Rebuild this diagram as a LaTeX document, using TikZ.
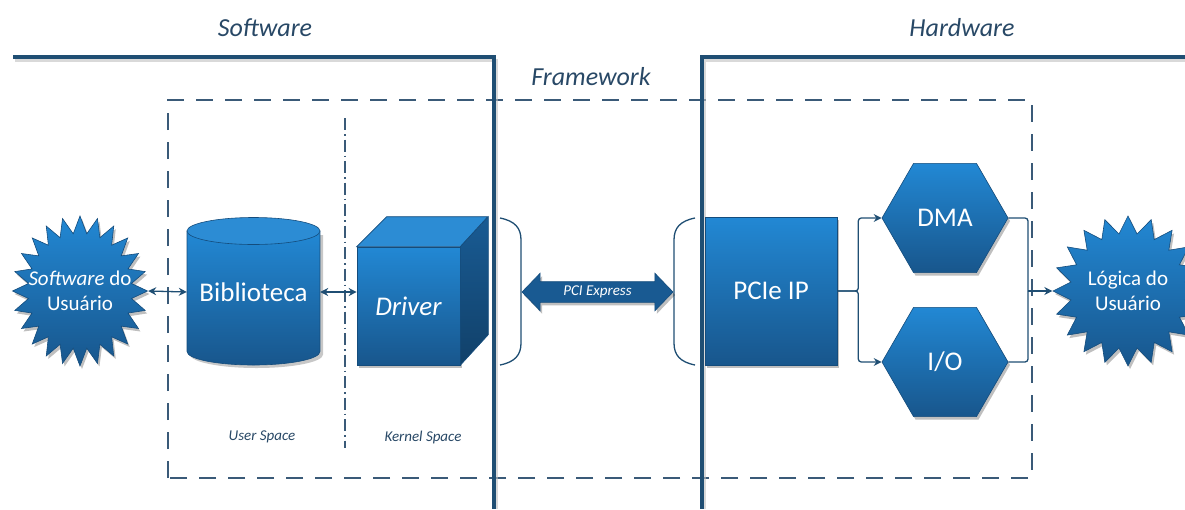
\documentclass[tikz,border=0pt]{standalone}
\usepackage{fontspec}
\setmainfont{Carlito}
\usetikzlibrary{shapes.geometric,shapes.arrows,arrows.meta,shadows}
\definecolor{navy}{RGB}{31,78,115}
\definecolor{dashc}{RGB}{58,90,120}
\definecolor{txtc}{RGB}{40,72,102}
\definecolor{btop}{RGB}{34,136,212}
\definecolor{bbot}{RGB}{24,86,140}
\definecolor{blight}{RGB}{44,140,212}
\definecolor{bdark}{RGB}{20,76,124}
\begin{document}
\begin{tikzpicture}[x=1pt,y=-1pt,
  bigline/.style={draw=navy, line width=3.2pt},
  frameline/.style={draw=dashc, line width=2.4pt, dash pattern=on 17pt off 12pt},
  shad/.style={drop shadow={shadow xshift=2pt, shadow yshift=-3pt, opacity=0.25, fill=black}},
  blk/.style={top color=btop, bottom color=bbot, draw=bdark, line width=0.6pt, text=white,
    font=\fontsize{27}{30}\selectfont, shad},
  hdr/.style={text=txtc, font=\fontsize{26}{30}\selectfont\itshape},
  small/.style={text=txtc, font=\fontsize{15}{18}\selectfont\itshape},
  conn/.style={draw=navy, line width=1.3pt},
  arr/.style={-{Stealth[length=8pt,width=8pt]}},
  darr/.style={{Stealth[length=8pt,width=8pt]}-{Stealth[length=8pt,width=8pt]}},
  brk/.style={draw=navy, line width=1.3pt},
  burst/.style={star, inner sep=0pt, top color=btop, bottom color=bbot,
    draw=bdark, line width=0.6pt, shad},
  bursttext/.style={align=center, text=white, font=\fontsize{21}{25}\selectfont, inner sep=0pt}
]
\useasboundingbox (0,0) rectangle (1185,509);

% headers
\node[hdr] (sw) at (265,28) {Software};
\node[hdr] (hw) at (962,28) {Hardware};
\node[hdr] (fw) at (591,77) {Framework};

% framework dashed box
\draw[frameline] (168,478) -- (168,100) -- (1032,100) -- (1032,478) -- cycle;
% user/kernel separator
\draw[dashc, line width=1.4pt, dash pattern=on 12pt off 4pt on 1.5pt off 4pt] (345,118) -- (345,448);

% software / hardware lines
\draw[black!25, line width=3pt, opacity=0.6] (15,60) -- (496,60) -- (496,509);
\draw[black!25, line width=3pt, opacity=0.6] (1185,60) -- (704,60) -- (704,509);
\draw[bigline] (13,57) -- (494,57) -- (494,509);
\draw[bigline] (1185,57) -- (702,57) -- (702,509);

\node[small] (us) at (262,437) {User Space};
\node[small] (ks) at (423,437) {Kernel Space};

% user software
\node[burst, star points=24, star point ratio=1.3, minimum size=150pt, xscale=0.9, transform shape] (usr) at (80,291) {};
\node[bursttext] (usrt) at (usr.center) {\textit{Software} do\\Usuário};

% Biblioteca cylinder
\fill[black, opacity=0.22] (190,235) -- (190,354.5) arc[start angle=180,end angle=0,x radius=66.5,y radius=13.5] -- (323,235) -- cycle;
\draw[top color=btop, bottom color=bbot, draw=bdark, line width=0.6pt]
  (187,231) -- (187,351.5) arc[start angle=180,end angle=0,x radius=66.5,y radius=13.5] -- (320,231) -- cycle;
\draw[fill=blight, draw=bdark, line width=0.6pt] (253.5,231) ellipse [x radius=66.5, y radius=13.5];
\node[text=white, font=\fontsize{27}{30}\selectfont, minimum width=133pt, minimum height=100pt, inner sep=0pt] (bib) at (253.5,292) {Biblioteca};

% Driver cube
\node[blk, minimum width=103pt, minimum height=118pt, inner sep=0pt] (drv) at (408.5,306) {\textit{Driver}};
\draw[fill=blight, draw=bdark, line width=0.6pt] (drv.north west) -- ++(30,-30) -- ++(101,0) -- (drv.north east) -- cycle;
\draw[top color=bbot!90!btop, bottom color=bdark!85!black, draw=bdark, line width=0.6pt] (drv.north east) -- ++(28,-30) -- ++(0,118) -- (drv.south east) -- cycle;

% brackets
\draw[brk] (500,218) .. controls (515,221) and (521,228) .. (521,240) -- (521,343) .. controls (521,355) and (515,362) .. (500,365);
\draw[brk] (695,218) .. controls (680,221) and (674,228) .. (674,240) -- (674,343) .. controls (674,355) and (680,362) .. (695,365);

% PCI Express arrow
\node[double arrow, double arrow tip angle=92, double arrow head extend=8.5pt, double arrow head indent=0pt,
  minimum height=151pt, minimum width=37pt, inner xsep=2pt, inner ysep=5pt, text height=8pt, text depth=2pt,
  fill=bbot!92!btop, draw=bdark, line width=0.6pt, text=white, font=\fontsize{15}{17}\selectfont\itshape, shad]
  (pci) at (597.5,292) {PCI Express};

% PCIe IP
\node[blk, minimum width=132pt, minimum height=148pt, inner sep=0pt] (pcie) at (771,291) {PCIe IP};

% DMA and I/O
\node[blk, regular polygon, regular polygon sides=6, minimum size=126pt, inner sep=0pt] (dma) at (945,218) {DMA};
\node[blk, regular polygon, regular polygon sides=6, minimum size=126pt, inner sep=0pt] (io) at (945,362) {I/O};

% user logic
\node[burst, star points=20, star point ratio=1.3, minimum size=150pt] (log) at (1128,291) {};
\node[bursttext] (logt) at (log.center) {Lógica do\\Usuário};

% connectors
\draw[conn, darr] (usr.east) -- (bib.west);
\draw[conn, darr] (bib.east) -- (bib.east -| drv.west);
\draw[conn, arr, rounded corners=3pt] (pcie.east) -- ++(21,0) |- (dma.west);
\draw[conn, arr, rounded corners=3pt] (pcie.east) -- ++(21,0) |- (io.west);
\coordinate (jn) at (1028,291);
\draw[conn, rounded corners=3pt] (dma.east) -| (jn);
\draw[conn, rounded corners=3pt] (io.east) -| (jn);
\draw[conn, arr] (jn) -- (log.west);
\end{tikzpicture}
\end{document}
